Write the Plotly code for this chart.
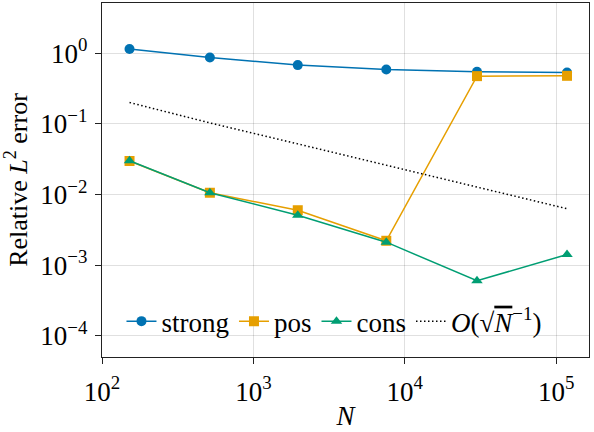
import plotly.graph_objects as go

# Mesh sizes and relative L2 errors for each scheme
N = [152, 516, 1964, 7550, 30000, 118000]
err_strong = [1.14, 0.867, 0.676, 0.586, 0.543, 0.531]
err_pos = [0.0298, 0.0106, 0.0060, 0.00222, 0.472, 0.477]
err_cons = [0.0300, 0.0106, 0.0051, 0.00212, 0.000603, 0.00142]
ref_rate = [0.20, 0.103, 0.052, 0.026, 0.013, 0.0063]

x_tickvals = [1e2, 1e3, 1e4, 1e5]
x_ticktext = ["10<sup>2</sup>", "10<sup>3</sup>", "10<sup>4</sup>", "10<sup>5</sup>"]
y_tickvals = [1e0, 1e-1, 1e-2, 1e-3, 1e-4]
y_ticktext = ["10<sup>0</sup>", "10<sup>−1</sup>", "10<sup>−2</sup>", "10<sup>−3</sup>", "10<sup>−4</sup>"]

BLUE = "#0072B2"
ORANGE = "#E69F00"
GREEN = "#009E73"
FONT = "'Liberation Serif', 'DejaVu Serif', serif"

fig = go.Figure()
fig.add_trace(go.Scatter(x=N, y=err_strong, name="strong", mode="lines+markers",
                         line=dict(color=BLUE, width=1.5),
                         marker=dict(symbol="circle", size=10, color=BLUE)))
fig.add_trace(go.Scatter(x=N, y=err_pos, name="pos", mode="lines+markers",
                         line=dict(color=ORANGE, width=1.5),
                         marker=dict(symbol="square", size=10, color=ORANGE)))
fig.add_trace(go.Scatter(x=N, y=err_cons, name="cons", mode="lines+markers",
                         line=dict(color=GREEN, width=1.5),
                         marker=dict(symbol="triangle-up", size=10, color=GREEN)))
fig.add_trace(go.Scatter(x=N, y=ref_rate, mode="lines",
                         name="<i>O</i>(√<span style='text-decoration:overline'><i>N</i></span><sup>−1</sup>)",
                         line=dict(color="black", width=1.5, dash="1.5px,2.5px")))

axis_common = dict(
    type="log", showgrid=True, gridcolor="rgba(0,0,0,0.12)", gridwidth=1,
    showline=True, mirror=True, linecolor="#222222", linewidth=1.25,
    ticks="outside", ticklen=6, tickwidth=1.25, tickcolor="#222222",
    tickfont=dict(family=FONT, size=27, color="black"),
)

fig.update_xaxes(**axis_common, range=[2, 5.217], tickmode="array",
                 tickvals=x_tickvals, ticktext=x_ticktext, ticklabelstandoff=4,
                 title=dict(text="<i>N</i>", font=dict(family=FONT, size=27, color="black"), standoff=0))
fig.update_yaxes(**axis_common, range=[-4.297, 0.708], tickmode="array",
                 tickvals=y_tickvals, ticktext=y_ticktext, ticklabelstandoff=2,
                 title=dict(text="Relative <i>L</i><sup>2</sup> error",
                            font=dict(family=FONT, size=26, color="black"), standoff=6))

fig.update_layout(
    width=594, height=432, autosize=False,
    margin=dict(l=102, r=5, t=3, b=75),
    paper_bgcolor="white", plot_bgcolor="white",
    font=dict(family=FONT, size=27, color="black"),
    legend=dict(orientation="h", x=0.04, y=0.10, xanchor="left", yanchor="middle",
                bgcolor="rgba(0,0,0,0)", borderwidth=0,
                font=dict(family=FONT, size=27, color="black")),
)

fig.write_html("out.html")
